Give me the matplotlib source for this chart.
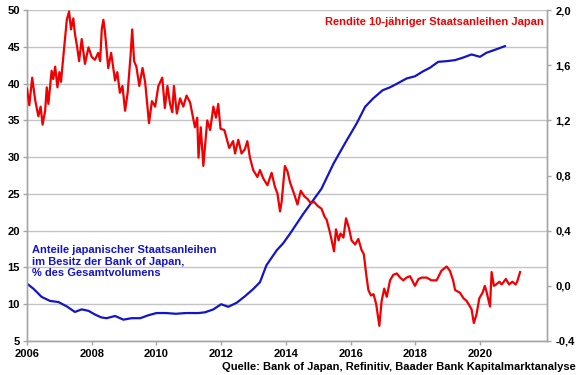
import matplotlib
matplotlib.use('Agg')
import matplotlib.pyplot as plt

plt.rcParams['font.family'] = ['Liberation Sans', 'DejaVu Sans']
plt.rcParams['font.weight'] = 'bold'

# Rendite 10-jaehriger JGB (rechte Achse, %)
rendite_jahr = [
    2006.00, 2006.07, 2006.16, 2006.25, 2006.35, 2006.42, 2006.48, 2006.56, 2006.61, 2006.66,
    2006.76, 2006.81, 2006.87, 2006.94, 2007.00, 2007.05, 2007.14, 2007.23, 2007.30, 2007.36,
    2007.43, 2007.48, 2007.55, 2007.61, 2007.69, 2007.79, 2007.90, 2008.00, 2008.10, 2008.20,
    2008.26, 2008.31, 2008.36, 2008.41, 2008.51, 2008.60, 2008.72, 2008.79, 2008.87, 2008.95,
    2009.03, 2009.11, 2009.20, 2009.25, 2009.31, 2009.38, 2009.47, 2009.57, 2009.65, 2009.77,
    2009.86, 2009.96, 2010.06, 2010.18, 2010.26, 2010.34, 2010.42, 2010.49, 2010.54, 2010.63,
    2010.73, 2010.83, 2010.93, 2011.04, 2011.09, 2011.19, 2011.26, 2011.30, 2011.37, 2011.45,
    2011.50, 2011.57, 2011.66, 2011.76, 2011.84, 2011.91, 2011.98, 2012.10, 2012.17, 2012.25,
    2012.37, 2012.43, 2012.53, 2012.63, 2012.73, 2012.81, 2012.89, 2012.99, 2013.12, 2013.20,
    2013.30, 2013.43, 2013.56, 2013.66, 2013.74, 2013.82, 2013.87, 2013.97, 2014.05, 2014.13,
    2014.25, 2014.36, 2014.46, 2014.57, 2014.67, 2014.77, 2014.87, 2014.98, 2015.10, 2015.20,
    2015.26, 2015.36, 2015.49, 2015.55, 2015.63, 2015.69, 2015.78, 2015.86, 2015.95, 2016.03,
    2016.14, 2016.24, 2016.34, 2016.41, 2016.48, 2016.55, 2016.63, 2016.71, 2016.79, 2016.89,
    2016.96, 2017.04, 2017.12, 2017.22, 2017.32, 2017.43, 2017.53, 2017.63, 2017.73, 2017.84,
    2017.99, 2018.10, 2018.20, 2018.35, 2018.50, 2018.66, 2018.81, 2018.97, 2019.07, 2019.17,
    2019.23, 2019.38, 2019.49, 2019.59, 2019.69, 2019.74, 2019.81, 2019.89, 2019.98, 2020.08,
    2020.15, 2020.20, 2020.31, 2020.36, 2020.43, 2020.50, 2020.60, 2020.67, 2020.80, 2020.90,
    2021.00, 2021.10, 2021.15, 2021.24,
]
rendite = [
    1.43, 1.31, 1.51, 1.35, 1.23, 1.30, 1.17, 1.27, 1.44, 1.32,
    1.56, 1.50, 1.59, 1.44, 1.55, 1.48, 1.71, 1.93, 1.99, 1.86,
    1.94, 1.83, 1.73, 1.63, 1.79, 1.61, 1.73, 1.66, 1.64, 1.69,
    1.63, 1.86, 1.93, 1.84, 1.58, 1.69, 1.49, 1.55, 1.40, 1.45,
    1.27, 1.40, 1.67, 1.86, 1.63, 1.59, 1.45, 1.58, 1.48, 1.18,
    1.34, 1.30, 1.45, 1.51, 1.29, 1.45, 1.32, 1.26, 1.45, 1.25,
    1.36, 1.30, 1.38, 1.33, 1.27, 1.15, 1.22, 0.93, 1.15, 0.87,
    1.01, 1.20, 1.13, 1.30, 1.22, 1.32, 1.14, 1.13, 1.07, 1.00,
    1.05, 0.96, 1.06, 0.96, 0.99, 1.05, 0.93, 0.84, 0.79, 0.84,
    0.78, 0.73, 0.82, 0.72, 0.67, 0.54, 0.61, 0.87, 0.83, 0.75,
    0.67, 0.59, 0.69, 0.65, 0.63, 0.60, 0.61, 0.58, 0.56, 0.50,
    0.48, 0.39, 0.25, 0.41, 0.33, 0.38, 0.35, 0.49, 0.42, 0.33,
    0.30, 0.34, 0.26, 0.23, 0.09, -0.03, -0.07, -0.06, -0.13, -0.29,
    -0.11, -0.02, -0.08, 0.04, 0.08, 0.09, 0.06, 0.04, 0.06, 0.07,
    0.00, 0.05, 0.06, 0.06, 0.04, 0.04, 0.11, 0.14, 0.11, 0.04,
    -0.03, -0.05, -0.09, -0.11, -0.15, -0.17, -0.27, -0.21, -0.09, -0.05,
    0.00, -0.04, -0.15, 0.10, 0.00, 0.01, 0.03, 0.01, 0.05, 0.01,
    0.03, 0.01, 0.03, 0.10,
]

# Anteil der BoJ an JGB (linke Achse, %)
anteil_jahr = [
    2006.00, 2006.20, 2006.45, 2006.71, 2006.97, 2007.23, 2007.48, 2007.69, 2007.90, 2008.10,
    2008.30, 2008.46, 2008.72, 2008.98, 2009.23, 2009.50, 2009.75, 2010.00, 2010.30, 2010.60,
    2010.90, 2011.30, 2011.50, 2011.76, 2012.00, 2012.22, 2012.48, 2012.74, 2013.00, 2013.20,
    2013.40, 2013.72, 2013.92, 2014.13, 2014.54, 2015.10, 2015.47, 2015.83, 2016.19, 2016.45,
    2016.70, 2016.99, 2017.22, 2017.48, 2017.73, 2017.99, 2018.25, 2018.45, 2018.71, 2018.97,
    2019.23, 2019.48, 2019.74, 2020.00, 2020.20, 2020.46, 2020.77,
]
anteil = [
    12.8, 12.1, 11.0, 10.45, 10.3, 9.7, 8.95, 9.3, 9.1, 8.6,
    8.2, 8.1, 8.4, 7.9, 8.1, 8.1, 8.5, 8.8, 8.8, 8.7,
    8.8, 8.8, 8.9, 9.3, 10.0, 9.65, 10.2, 11.1, 12.1, 13.0,
    15.3, 17.35, 18.3, 19.6, 22.3, 25.7, 29.1, 31.9, 34.6, 36.85,
    38.0, 39.1, 39.5, 40.1, 40.7, 41.0, 41.7, 42.15, 42.97, 43.06,
    43.2, 43.55, 43.97, 43.65, 44.2, 44.6, 45.1,
]

jahre_ticks = [2006, 2008, 2010, 2012, 2014, 2016, 2018, 2020]
links_ticks = [5, 10, 15, 20, 25, 30, 35, 40, 45, 50]
rechts_ticks = [-0.4, 0.0, 0.4, 0.8, 1.2, 1.6, 2.0]

rot = '#f00000'
blau = '#1414c8'
grau = '#a6a6a6'

fig = plt.figure(figsize=(5.8, 3.75), dpi=100)
ax = fig.add_axes([0.0466, 0.0907, 0.8964, 0.8823])
ax2 = ax.twinx()

ax.plot(anteil_jahr, anteil, color=blau, lw=1.6, zorder=3)
ax2.plot(rendite_jahr, rendite, color=rot, lw=1.6, zorder=3)

ax.set_xlim(2006, 2022.07)
ax.set_ylim(5, 50)
ax2.set_ylim(-0.4, 2.0)
ax.set_xticks(jahre_ticks)
ax.set_xticklabels([str(j) for j in jahre_ticks])
ax.set_yticks(links_ticks)
ax2.set_yticks(rechts_ticks)
ax2.set_yticklabels([f'{v:.1f}'.replace('.', ',') for v in rechts_ticks])

ax.grid(axis='y', color='#c4c4c4', lw=1.0)
ax.set_axisbelow(True)
for a in (ax, ax2):
    a.spines['top'].set_visible(False)
    for s in ('left', 'right', 'bottom'):
        a.spines[s].set_color(grau)
        a.spines[s].set_linewidth(1.0)
    a.tick_params(colors=grau, labelcolor='black', labelsize=8, length=3, width=1)
ax.tick_params(axis='y', pad=2)
ax.tick_params(axis='x', pad=3)
ax2.tick_params(axis='y', pad=3)

ax2.text(2021.98, 1.913, 'Rendite 10-jähriger Staatsanleihen Japan', color=rot,
         fontsize=8, fontweight='bold', ha='right', va='center')
ax.text(2006.15, 15.8, 'Anteile japanischer Staatsanleihen\nim Besitz der Bank of Japan,\n% des Gesamtvolumens',
        color=blau, fontsize=8, fontweight='bold', ha='left', va='center', linespacing=1.2)

fig.text(0.992, 0.022, 'Quelle: Bank of Japan, Refinitiv, Baader Bank Kapitalmarktanalyse',
         fontsize=8, fontweight='bold', ha='right', va='center')

fig.savefig('out.png', dpi=100)
